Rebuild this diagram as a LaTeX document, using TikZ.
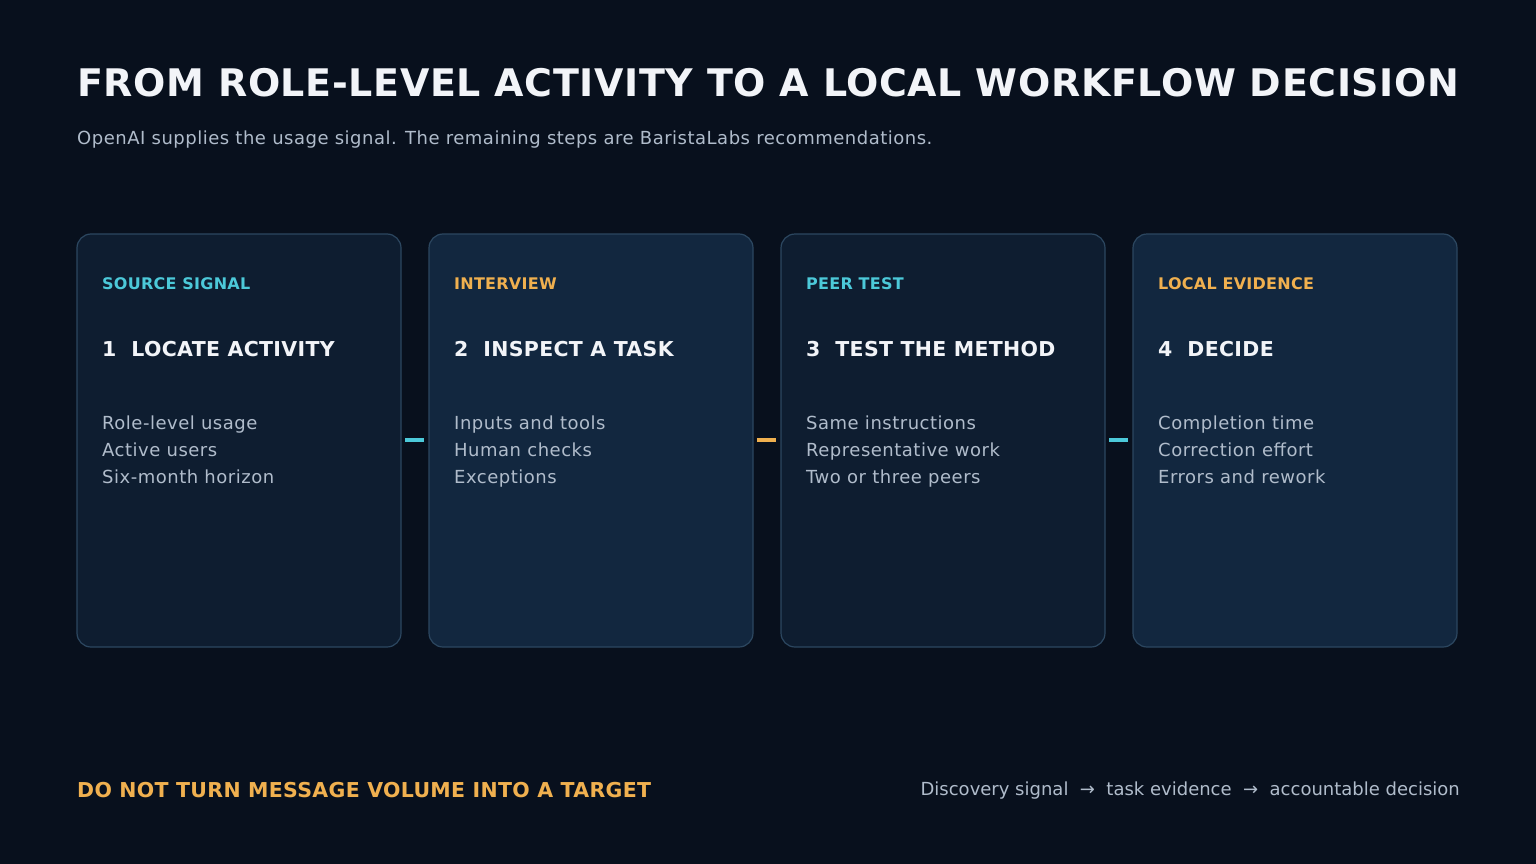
\documentclass[tikz,border=0pt]{standalone}
\usepackage{fontspec}
\setmainfont{DejaVu Sans}
\newfontfamily\lsA{DejaVu Sans}[LetterSpace=1.6]
\newfontfamily\lsB{DejaVu Sans}[LetterSpace=2.8]
\definecolor{bg}{HTML}{08101D}
\definecolor{cardA}{HTML}{0E1D30}
\definecolor{cardB}{HTML}{12273F}
\definecolor{edge}{HTML}{2C4760}
\definecolor{cyan}{HTML}{4CC9D9}
\definecolor{orng}{HTML}{F0B04F}
\definecolor{txt}{HTML}{B0BCCB}
\definecolor{ttl}{HTML}{F2F4F8}
\begin{document}
\begin{tikzpicture}[x=1pt,y=1pt,
  card/.style={draw=edge,line width=1.2pt,rounded corners=14pt},
  tag/.style={anchor=base west,font=\lsA\bfseries\fontsize{16}{19}\selectfont,inner sep=0},
  head/.style={anchor=base west,font=\lsA\bfseries\fontsize{20.5}{24}\selectfont,text=ttl,inner sep=0},
  item/.style={anchor=north west,font=\lsB\fontsize{18}{27}\selectfont,text=txt,inner sep=0,align=left},
  link/.style={line width=4pt}]
\fill[bg] (0,0) rectangle (1536,-864);
\useasboundingbox (0,0) rectangle (1536,-864);
\node[anchor=base west,inner sep=0,text=ttl,font=\lsA\bfseries\fontsize{38}{44}\selectfont] (title) at (77,-97) {FROM ROLE-LEVEL ACTIVITY TO A LOCAL WORKFLOW DECISION};
\node[anchor=base west,inner sep=0,text=txt,font=\lsB\fontsize{18}{22}\selectfont] (sub) at (77,-144) {OpenAI supplies the usage signal. The remaining steps are BaristaLabs recommendations.};
\foreach \i/\x/\f/\c/\t/\h/\a/\b/\d in {
 1/77/cardA/cyan/SOURCE SIGNAL/1\ \ LOCATE ACTIVITY/Role-level usage/Active users/Six-month horizon,
 2/429/cardB/orng/INTERVIEW/2\ \ INSPECT A TASK/Inputs and tools/Human checks/Exceptions,
 3/781/cardA/cyan/PEER TEST/3\ \ TEST THE METHOD/Same instructions/Representative work/Two or three peers,
 4/1133/cardB/orng/LOCAL EVIDENCE/4\ \ DECIDE/Completion time/Correction effort/Errors and rework}{
 \draw[card,fill=\f] (\x,-234) rectangle ++(324,-413);
 \coordinate (c\i) at (\x,-440);
 \node[tag,text=\c] (t\i) at (\x+25,-289) {\t};
 \node[head] (h\i) at (\x+25,-356) {\h};
 \node[item] (l\i) at (\x+25,-416) {\a\\\b\\\d};
}
\coordinate (r1) at (405,-440); \coordinate (r2) at (757,-440); \coordinate (r3) at (1109,-440);
\draw[link,cyan] (r1) -- ++(19,0);
\draw[link,orng] (r2) -- ++(19,0);
\draw[link,cyan] (r3) -- ++(19,0);
\node[anchor=base west,inner sep=0,text=orng,font=\lsA\bfseries\fontsize{20.5}{24}\selectfont] (warn) at (77,-797) {DO NOT TURN MESSAGE VOLUME INTO A TARGET};
\node[anchor=base east,inner sep=0,text=txt,font=\fontsize{18}{22}\selectfont] (flow) at (1460,-795) {Discovery signal\ \ →\ \ task evidence\ \ →\ \ accountable decision};
\end{tikzpicture}
\end{document}
